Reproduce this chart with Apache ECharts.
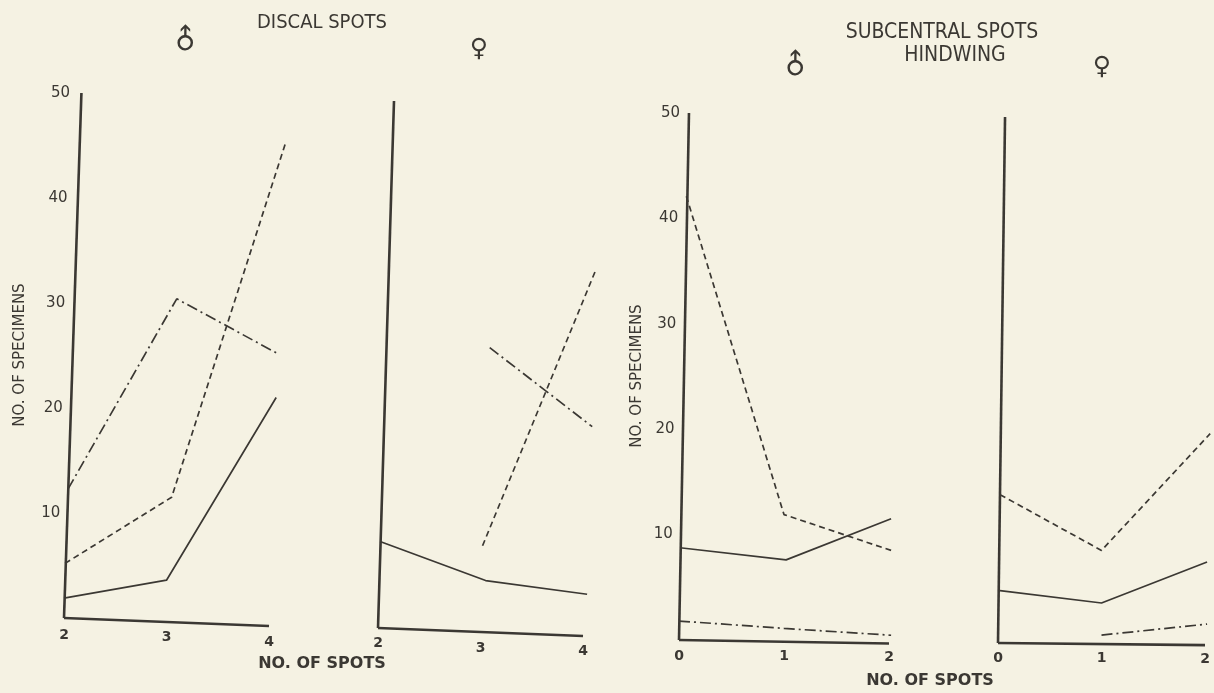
<!DOCTYPE html>
<html>
<head>
<meta charset="utf-8">
<script src="https://cdn.jsdelivr.net/npm/echarts@6/dist/echarts.min.js"></script>
<style>
html,body{margin:0;padding:0;background:#f5f2e3;}
#c{width:1214px;height:693px;}
</style>
</head>
<body>
<div id="c"></div>
<script>
// ---- data ----
const yTicks = [10, 20, 30, 40, 50];
const discalTicks = [2, 3, 4];
const subTicks = [0, 1, 2];

// Discal spots, male
const dMaleSolidX = [2, 3, 4.07];
const dMaleSolidY = [1.9, 3.6, 21];
const dMaleDashX = [2.01, 3.05, 4.16];
const dMaleDashY = [5.2, 11.5, 45.2];
const dMaleDotX = [2.04, 3.1, 4.1];
const dMaleDotY = [12.3, 30.4, 25.1];

// Discal spots, female
const dFemSolidX = [2.02, 3.05, 4.04];
const dFemSolidY = [8.2, 4.5, 3.2];
const dFemDashX = [3.02, 4.13];
const dFemDashY = [7.8, 34.1];
const dFemDotX = [3.09, 4.09];
const dFemDotY = [26.6, 19.1];

// Subcentral spots hindwing, male
const sMaleSolidX = [0.01, 1.02, 2.02];
const sMaleSolidY = [8.75, 7.6, 11.5];
const sMaleDashX = [0.07, 1, 2.02];
const sMaleDashY = [42.1, 11.9, 8.5];
const sMaleDotX = [0, 1, 2.02];
const sMaleDotY = [1.8, 1.1, 0.45];

// Subcentral spots hindwing, female
const sFemSolidX = [0, 1, 2.02];
const sFemSolidY = [5.0, 3.8, 7.7];
const sFemDashX = [0.02, 1, 2.05];
const sFemDashY = [14.1, 8.8, 19.9];
const sFemDotX = [1, 2.02];
const sFemDotY = [0.75, 1.8];

// ---- chart ----
const INK = '#3b3833';
const FONT = '"DejaVu Sans",sans-serif';
const FONTC = '"DejaVu Sans Condensed","DejaVu Sans",sans-serif';
const zip = (xs, ys) => xs.map((x, i) => [x, ys[i]]);
const Y_MAX = 50, Y_LOW = -10; // plotting axes reach a bit below zero so the hand-drawn baseline can lean

// per-panel drawing style (hand-drawn axes lean slightly)
const panels = [
  {left: 64, top: 93, unit: 102.5, h50: 525, extra: 0.2, ticks: discalTicks, lean: 0.17, drop: 0.76,
   xMargin: 10, xPad: [0, 2, 7], yLabels: true, yMargin: -8, yPad: v => 14 - 0.24 * v},
  {left: 378, top: 101, unit: 102.5, h50: 527, extra: 0.2, ticks: discalTicks, lean: 0.156, drop: 0.76,
   xMargin: 8, xPad: [0, 5, 8], yLabels: false},
  {left: 679, top: 113, unit: 105, h50: 527, extra: 0.1, ticks: subTicks, lean: 0.095, drop: 0.33,
   xMargin: 9, xPad: [0, 0, 1], yLabels: true, yMargin: -8, yPad: v => 16 - 0.18 * v},
  {left: 998, top: 117, unit: 103.5, h50: 526, extra: 0.06, ticks: subTicks, lean: 0.068, drop: 0.2,
   xMargin: 8, xPad: [0, 0, 1], yLabels: false}
];

// grids 0-3: labelled frames (0..50); grids 4-7: plotting frames (-10..50), same pixel scale
const grids = panels.map(p => ({left: p.left, top: p.top, width: p.unit * (2 + p.extra), height: p.h50,
  outerBoundsMode: 'none'}))
  .concat(panels.map(p => ({left: p.left, top: p.top, width: p.unit * (2 + p.extra),
  height: p.h50 * (Y_MAX - Y_LOW) / Y_MAX, outerBoundsMode: 'none'})));

function xAx(i) {
  const p = panels[i], t = p.ticks;
  const rich = {};
  t.forEach((v, k) => { rich['t' + k] = {padding: [p.xPad[k], 0, 0, 0], color: INK, fontFamily: FONT, fontSize: 14, fontWeight: 'bold'}; });
  return {
    gridIndex: i, type: 'value', min: t[0], max: t[t.length - 1] + p.extra, interval: 1,
    axisLine: {show: false}, axisTick: {show: false}, splitLine: {show: false},
    axisLabel: {color: INK, fontFamily: FONT, fontSize: 14, fontWeight: 'bold', margin: p.xMargin,
      showMaxLabel: false, rich: rich,
      formatter: v => { const k = t.indexOf(v); return k >= 0 ? '{t' + k + '|' + v + '}' : ''; }}
  };
}
function yAx(i) {
  const p = panels[i];
  const rich = {};
  yTicks.forEach(v => { rich['y' + v] = {padding: [0, p.yLabels ? p.yPad(v) : 0, 0, 0], color: INK, fontFamily: FONT, fontSize: 15}; });
  return {
    gridIndex: i, type: 'value', min: 0, max: Y_MAX, interval: 10,
    axisLine: {show: false}, axisTick: {show: false}, splitLine: {show: false},
    axisLabel: {show: p.yLabels, color: INK, fontFamily: FONT, fontSize: 15, margin: p.yMargin || 8, rich: rich,
      formatter: v => yTicks.indexOf(v) >= 0 ? '{y' + v + '|' + v + '}' : ''}
  };
}
function xPlot(i) {
  const p = panels[i], t = p.ticks;
  return {gridIndex: 4 + i, type: 'value', min: t[0], max: t[t.length - 1] + p.extra, show: false};
}
function yPlot(i) {
  return {gridIndex: 4 + i, type: 'value', min: Y_LOW, max: Y_MAX, interval: 10, show: false};
}
function ln(i, xs, ys, type, withAxes) {
  const dash = type === 'solid' ? 'solid' : (type === 'dash' ? [6, 4] : [11, 4, 2, 4]);
  const s = {
    type: 'line', xAxisIndex: 4 + i, yAxisIndex: 4 + i, data: zip(xs, ys), symbol: 'none',
    clip: false, silent: true, animation: false,
    lineStyle: {color: INK, width: 1.7, type: dash}
  };
  if (withAxes) {
    const p = panels[i], t = p.ticks;
    const x0 = t[0], x1 = t[t.length - 1];
    s.markLine = {
      silent: true, symbol: 'none', animation: false, label: {show: false},
      lineStyle: {color: INK, width: 2.6, type: 'solid'},
      data: [
        [{coord: [x0, 0]}, {coord: [x1, -p.drop]}],
        [{coord: [x0, 0]}, {coord: [x0 + p.lean, Y_MAX]}]
      ]
    };
  }
  return s;
}
function txt(x, y, s, size, opts) {
  opts = opts || {};
  const o = {
    type: 'text', x: x, y: y,
    style: {text: s, fill: INK, font: (opts.weight ? opts.weight + ' ' : '') + size + 'px ' + (opts.font || FONT),
      textAlign: 'center', textVerticalAlign: 'middle'}
  };
  if (opts.rotation !== undefined) o.rotation = opts.rotation;
  return o;
}

const option = {
  backgroundColor: '#f5f2e3',
  animation: false,
  grid: grids,
  xAxis: [0, 1, 2, 3].map(xAx).concat([0, 1, 2, 3].map(xPlot)),
  yAxis: [0, 1, 2, 3].map(yAx).concat([0, 1, 2, 3].map(yPlot)),
  series: [
    ln(0, dMaleSolidX, dMaleSolidY, 'solid', true),
    ln(0, dMaleDashX, dMaleDashY, 'dash'),
    ln(0, dMaleDotX, dMaleDotY, 'dot'),
    ln(1, dFemSolidX, dFemSolidY, 'solid', true),
    ln(1, dFemDashX, dFemDashY, 'dash'),
    ln(1, dFemDotX, dFemDotY, 'dot'),
    ln(2, sMaleSolidX, sMaleSolidY, 'solid', true),
    ln(2, sMaleDashX, sMaleDashY, 'dash'),
    ln(2, sMaleDotX, sMaleDotY, 'dot'),
    ln(3, sFemSolidX, sFemSolidY, 'solid', true),
    ln(3, sFemDashX, sFemDashY, 'dash'),
    ln(3, sFemDotX, sFemDotY, 'dot')
  ],
  graphic: [
    txt(322, 23, 'DISCAL SPOTS', 20, {font: FONTC}),
    txt(942, 33, 'SUBCENTRAL SPOTS', 21, {font: FONTC}),
    txt(955, 56, 'HINDWING', 21, {font: FONTC}),
    txt(187, 41, '\u2642', 28, {weight: 'bold', rotation: Math.PI / 4}),
    txt(479, 49, '\u2640', 25, {weight: 'bold'}),
    txt(797, 66, '\u2642', 28, {weight: 'bold', rotation: Math.PI / 4}),
    txt(1102, 67, '\u2640', 25, {weight: 'bold'}),
    txt(20, 355, 'NO. OF SPECIMENS', 15, {rotation: Math.PI / 2}),
    txt(637, 376, 'NO. OF SPECIMENS', 15, {rotation: Math.PI / 2}),
    txt(322, 664, 'NO. OF SPOTS', 16, {weight: 'bold'}),
    txt(930, 681, 'NO. OF SPOTS', 16, {weight: 'bold'})
  ]
};

const chart = echarts.init(document.getElementById('c'), null, {renderer: 'canvas'});
chart.setOption(option);
</script>
</body>
</html>
